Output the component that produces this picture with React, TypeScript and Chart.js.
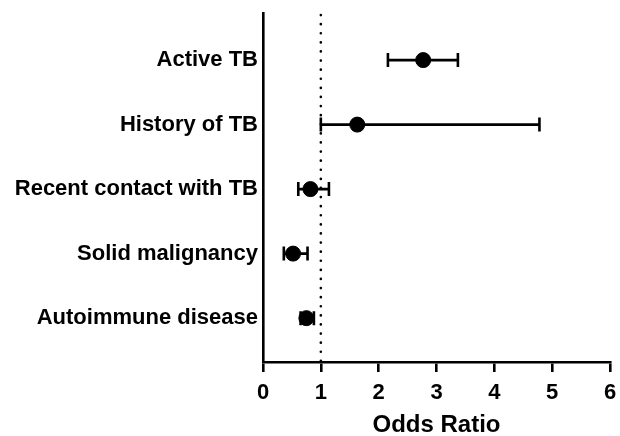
import React, { useEffect, useRef } from "react";
import { Chart, registerables } from "chart.js";

Chart.register(...registerables);

const categories = [
  "Active TB",
  "History of TB",
  "Recent contact with TB",
  "Solid malignancy",
  "Autoimmune disease",
];
const oddsRatio = [2.77, 1.63, 0.82, 0.52, 0.75];
const lowerCI = [2.16, 1.0, 0.61, 0.36, 0.65];
const upperCI = [3.37, 4.78, 1.14, 0.77, 0.88];
const xTicks = [0, 1, 2, 3, 4, 5, 6];
const referenceValue = 1;

const FONT = "'Liberation Sans', Arial, Helvetica, sans-serif";

const errorBarPlugin = {
  id: "errorBars",
  beforeDatasetsDraw(chart: any) {
    const { ctx, scales } = chart;
    const xs = scales.x;
    const ys = scales.y;
    ctx.save();
    // dotted reference line
    const rx = xs.getPixelForValue(referenceValue);
    ctx.strokeStyle = "#000";
    ctx.lineWidth = 2.6;
    ctx.lineCap = "round";
    ctx.setLineDash([0.1, 9]);
    ctx.beginPath();
    ctx.moveTo(rx, chart.chartArea.top + 2);
    ctx.lineTo(rx, chart.chartArea.bottom);
    ctx.stroke();
    ctx.setLineDash([]);
    ctx.lineCap = "butt";
    // error bars
    ctx.lineWidth = 2.6;
    const cap = 7;
    categories.forEach((_, i) => {
      const y = ys.getPixelForValue(i);
      const x1 = xs.getPixelForValue(lowerCI[i]);
      const x2 = xs.getPixelForValue(upperCI[i]);
      ctx.beginPath();
      ctx.moveTo(x1, y);
      ctx.lineTo(x2, y);
      ctx.moveTo(x1, y - cap);
      ctx.lineTo(x1, y + cap);
      ctx.moveTo(x2, y - cap);
      ctx.lineTo(x2, y + cap);
      ctx.stroke();
    });
    ctx.restore();
  },
};

export default function App() {
  const ref = useRef<HTMLCanvasElement>(null);
  useEffect(() => {
    if (!ref.current) return;
    const chart = new Chart(ref.current, {
      type: "scatter",
      data: {
        datasets: [
          {
            data: categories.map((_, i) => ({ x: oddsRatio[i], y: i })),
            backgroundColor: "#000",
            borderColor: "#000",
            pointRadius: 7.5,
            pointHoverRadius: 7.5,
          },
        ],
      },
      options: {
        animation: false,
        responsive: false,
        maintainAspectRatio: false,
        layout: { padding: { left: 0, right: 10, top: 13, bottom: 0 } },
        plugins: {
          legend: { display: false },
          tooltip: { enabled: false },
        },
        scales: {
          x: {
            type: "linear",
            min: 0,
            max: 6,
            afterBuildTicks: (s: any) => {
              s.ticks = xTicks.map((v) => ({ value: v }));
            },
            afterFit: (s: any) => {
              s.height = 74;
              s.paddingLeft = 0;
              s.paddingRight = 0;
            },
            grid: {
              drawOnChartArea: false,
              drawTicks: true,
              tickLength: 10,
              color: "#000",
              lineWidth: 2.6,
            },
            border: { display: true, color: "#000", width: 2.6 },
            ticks: {
              color: "#000",
              padding: 8,
              font: { family: FONT, size: 22, weight: "bold" },
              maxRotation: 0,
            },
            title: {
              display: true,
              text: "Odds Ratio",
              color: "#000",
              padding: { top: 0, bottom: -4 },
              font: { family: FONT, size: 24, weight: "bold" },
            },
          },
          y: {
            type: "linear",
            reverse: true,
            min: -0.73,
            max: 4.68,
            afterBuildTicks: (s: any) => {
              s.ticks = categories.map((_, i) => ({ value: i }));
            },
            afterFit: (s: any) => {
              s.width = 263;
              s.paddingTop = 0;
              s.paddingBottom = 0;
            },
            grid: { display: false, drawTicks: false, tickLength: 0 },
            border: { display: true, color: "#000", width: 2.6 },
            ticks: {
              color: "#000",
              padding: 5,
              font: { family: FONT, size: 22, weight: "bold" },
              callback: (v: any) => categories[Math.round(Number(v))] ?? "",
            },
          },
        },
      },
      plugins: [errorBarPlugin],
    } as any);
    return () => chart.destroy();
  }, []);
  return (
    <div style={{ position: "absolute", left: 0, top: 0, width: 620, height: 436, background: "#fff" }}>
      <canvas ref={ref} width={620} height={436} style={{ width: 620, height: 436 }} />
    </div>
  );
}
